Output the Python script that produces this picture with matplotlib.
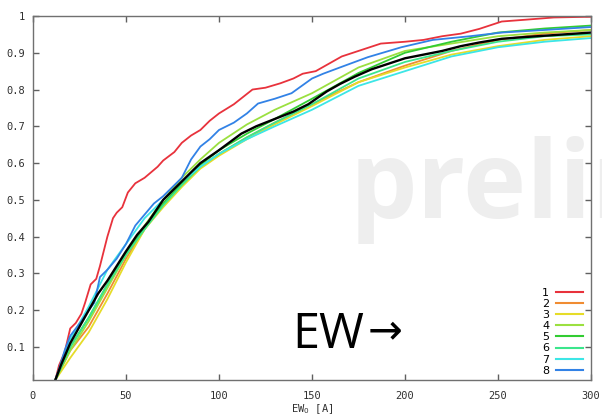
import matplotlib
matplotlib.use("Agg")
import matplotlib.pyplot as plt
from matplotlib.lines import Line2D

# ---- data ----
grid = [12, 20, 30, 40, 50, 60, 70, 80, 90, 100, 115, 130, 150, 175, 200, 225, 250, 275, 300]

red_x = [12, 14, 17, 20, 23, 26, 28, 31, 34, 36, 38, 40, 43, 45, 48, 51, 55, 60, 67, 70, 76, 80, 85, 90,
         95, 100, 108, 113, 118, 125, 133, 140, 145, 152, 159, 166, 175, 187, 200, 210, 220, 230, 240,
         252, 265, 280, 300]
red_y = [0.01, 0.05, 0.085, 0.15, 0.165, 0.19, 0.22, 0.27, 0.285, 0.32, 0.36, 0.40, 0.45, 0.465, 0.48,
         0.52, 0.545, 0.56, 0.59, 0.607, 0.63, 0.655, 0.675, 0.69, 0.715, 0.735, 0.76, 0.78, 0.80, 0.805,
         0.817, 0.83, 0.843, 0.85, 0.87, 0.89, 0.905, 0.925, 0.93, 0.935, 0.945, 0.952, 0.965, 0.985,
         0.99, 0.996, 0.998]

blue_x = [12, 14, 17, 20, 23, 26, 30, 33, 36, 40, 45, 50, 55, 60, 65, 70, 75, 80, 85, 90, 95, 100, 108,
          115, 121, 130, 139, 150, 156, 165, 180, 198, 215, 235, 252, 275, 300]
blue_y = [0.01, 0.04, 0.09, 0.13, 0.15, 0.17, 0.2, 0.22, 0.29, 0.31, 0.34, 0.38, 0.43, 0.46, 0.49, 0.51,
          0.535, 0.56, 0.61, 0.645, 0.665, 0.69, 0.71, 0.735, 0.762, 0.775, 0.79, 0.83, 0.843, 0.86,
          0.888, 0.915, 0.935, 0.945, 0.955, 0.962, 0.97]

orange_y = [0.01, 0.09, 0.155, 0.245, 0.34, 0.42, 0.49, 0.54, 0.59, 0.625, 0.67, 0.71, 0.76, 0.82,
            0.865, 0.905, 0.935, 0.952, 0.962]
yellow_y = [0.01, 0.07, 0.14, 0.23, 0.33, 0.42, 0.48, 0.535, 0.585, 0.62, 0.665, 0.705, 0.755, 0.82,
            0.86, 0.895, 0.918, 0.935, 0.945]
lgreen_y = [0.01, 0.09, 0.17, 0.26, 0.35, 0.43, 0.5, 0.56, 0.61, 0.655, 0.705, 0.745, 0.79, 0.86,
            0.905, 0.925, 0.945, 0.955, 0.962]
green_y = [0.01, 0.1, 0.18, 0.27, 0.355, 0.425, 0.49, 0.545, 0.595, 0.635, 0.68, 0.72, 0.775, 0.845,
           0.9, 0.93, 0.955, 0.966, 0.974]
sgreen_y = [0.01, 0.1, 0.18, 0.27, 0.35, 0.42, 0.485, 0.54, 0.59, 0.625, 0.67, 0.71, 0.76, 0.83,
            0.875, 0.905, 0.93, 0.945, 0.95]
cyan_y = [0.01, 0.12, 0.21, 0.31, 0.38, 0.45, 0.5, 0.55, 0.59, 0.625, 0.665, 0.7, 0.745, 0.81, 0.85,
          0.89, 0.915, 0.93, 0.94]

black_x = [12, 15, 20, 25, 30, 35, 40, 45, 50, 56, 62, 70, 80, 90, 100, 112, 120, 130, 140, 148, 158,
           165, 173, 182, 191, 200, 210, 220, 230, 240, 252, 265, 280, 300]
black_y = [0.01, 0.05, 0.11, 0.155, 0.2, 0.245, 0.28, 0.32, 0.36, 0.405, 0.44, 0.5, 0.55, 0.6, 0.635,
           0.68, 0.7, 0.72, 0.74, 0.76, 0.795, 0.815, 0.835, 0.855, 0.87, 0.885, 0.895, 0.905, 0.918,
           0.928, 0.938, 0.943, 0.948, 0.955]

labels = ["1", "2", "3", "4", "5", "6", "7", "8"]
colors = ["#e8323c", "#f08c32", "#e6dc28", "#9be040", "#32cc32", "#3ce68c", "#3ce6e6", "#3282e6"]
xticks = [0, 50, 100, 150, 200, 250, 300]
yticks = [0.1, 0.2, 0.3, 0.4, 0.5, 0.6, 0.7, 0.8, 0.9, 1.0]
ytick_labels = ["0.1", "0.2", "0.3", "0.4", "0.5", "0.6", "0.7", "0.8", "0.9", "1"]

series = [
    (red_x, red_y),
    (grid, orange_y),
    (grid, yellow_y),
    (grid, lgreen_y),
    (grid, green_y),
    (grid, sgreen_y),
    (grid, cyan_y),
    (blue_x, blue_y),
]

W, H = 602, 417
fig = plt.figure(figsize=(W / 100, H / 100), dpi=100)
fig.patch.set_facecolor("white")

# watermark behind axes
fig.text(350 / W, 1 - 218 / H, "preliminary", fontsize=77, fontweight="bold",
         family=["Open Sans", "DejaVu Sans"], color="#eeeeee", ha="left", va="baseline", zorder=-5)

ax = fig.add_axes([33 / W, 37 / H, 558 / W, 364 / H])
ax.patch.set_alpha(0)

for (xs, ys), c, lab in zip(series, colors, labels):
    ax.plot(xs, ys, color=c, lw=1.3, label=lab)
ax.plot(black_x, black_y, color="black", lw=1.7)

ax.set_xlim(0, 300)
ax.set_ylim(0.01, 1.0)
ax.set_xticks(xticks)
ax.set_yticks(yticks)
ax.set_yticklabels(ytick_labels)

mono = "DejaVu Sans Mono"
ax.tick_params(direction="in", length=4, width=1, color="#606060", top=True, right=True,
               labelsize=7.5, labelcolor="#303030")
ax.tick_params(axis="x", pad=8)
ax.tick_params(axis="y", pad=6)
for lbl in ax.get_xticklabels() + ax.get_yticklabels():
    lbl.set_family(mono)
for s in ax.spines.values():
    s.set_color("#707070")
    s.set_linewidth(1.0)

ax.set_xlabel("EW$_0$ [A]", fontsize=7.5, family=mono, color="#303030", labelpad=1)

handles = [Line2D([], [], color=c, lw=1.5) for c in colors]
leg = ax.legend(handles, labels, loc="lower right", bbox_to_anchor=(0.985, 0.012),
                frameon=False, markerfirst=False, fontsize=8, handlelength=2.4,
                handletextpad=0.6, labelspacing=0.1, borderpad=0, borderaxespad=0)
for t in leg.get_texts():
    t.set_ha("right")

fig.text(292 / W, 1 - 348 / H, "EW", fontsize=35, family=["Open Sans", "DejaVu Sans"],
         color="black", ha="left", va="baseline")
fig.text(368 / W, 1 - 343 / H, "\u2192", fontsize=30, family=["Noto Sans", "Open Sans", "DejaVu Sans"],
         color="black", ha="left", va="baseline")

fig.savefig("out.png", dpi=100)
